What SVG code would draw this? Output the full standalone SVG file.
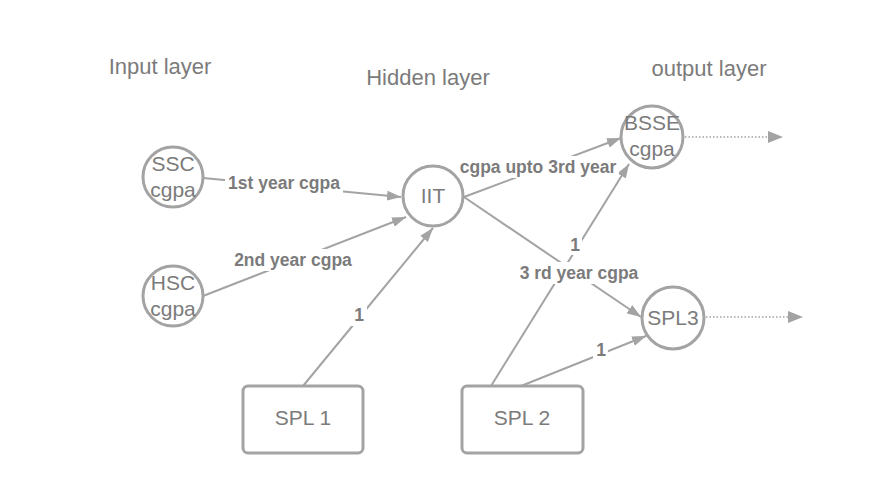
<svg xmlns="http://www.w3.org/2000/svg" width="869" height="493" viewBox="0 0 869 493">
<style>
.node{fill:#fff;stroke:#a3a3a3;stroke-width:3}
.nt{font-family:"Liberation Sans",Arial,sans-serif;font-size:21px;fill:#7b7b7b;text-anchor:middle}
.layer{font-family:"Liberation Sans",Arial,sans-serif;font-size:22px;fill:#7b7b7b;text-anchor:middle}
.edge{stroke:#a3a3a3;stroke-width:2;fill:none}
.dot{stroke:#a3a3a3;stroke-width:1.5;fill:none;stroke-dasharray:1.5 2}
.lbl{font-family:"Liberation Sans",Arial,sans-serif;font-size:17.5px;font-weight:bold;fill:#7b7b7b;text-anchor:middle}
.bg{fill:#fff}
</style>
<defs>
<marker id="ah" viewBox="0 0 14 10" refX="14" refY="5" markerWidth="14" markerHeight="10" markerUnits="userSpaceOnUse" orient="auto">
<path d="M0,0 L14,5 L0,10 Z" fill="#a3a3a3"/>
</marker>
</defs>
<rect width="869" height="493" fill="#fff"/>
<text class="layer" x="160" y="74">Input layer</text>
<text class="layer" x="428" y="85">Hidden layer</text>
<text class="layer" x="709" y="76">output layer</text>
<g id="connectors">
<line class="edge" x1="203" y1="178" x2="401" y2="197" marker-end="url(#ah)"/>
<line class="edge" x1="203" y1="296" x2="406" y2="217" marker-end="url(#ah)"/>
<line class="edge" x1="303" y1="386" x2="433" y2="228" marker-end="url(#ah)"/>
<line class="edge" x1="464" y1="197" x2="621" y2="138" marker-end="url(#ah)"/>
<line class="edge" x1="464" y1="197" x2="641" y2="317" marker-end="url(#ah)"/>
<line class="edge" x1="491" y1="386" x2="629" y2="164" marker-end="url(#ah)"/>
<line class="edge" x1="521" y1="386" x2="646" y2="336" marker-end="url(#ah)"/>
<line class="dot" x1="685" y1="137" x2="768" y2="137"/>
<path d="M768,131 L783,137 L768,143 Z" fill="#a3a3a3"/>
<line class="dot" x1="706" y1="317" x2="788" y2="317"/>
<path d="M788,311 L803,317 L788,323 Z" fill="#a3a3a3"/>
<rect class="bg" x="225" y="172" width="118" height="22"/>
<text class="lbl" x="284" y="189">1st year cgpa</text>
<rect class="bg" x="231" y="249" width="124" height="22"/>
<text class="lbl" x="293" y="266">2nd year cgpa</text>
<rect class="bg" x="351" y="305" width="16" height="21"/>
<text class="lbl" x="359" y="321">1</text>
<rect class="bg" x="457" y="156" width="162" height="22"/>
<text class="lbl" x="538" y="173">cgpa upto 3rd year</text>
<rect class="bg" x="516" y="262" width="126" height="22"/>
<text class="lbl" x="579" y="279">3 rd year cgpa</text>
<rect class="bg" x="567" y="236" width="15" height="19"/>
<text class="lbl" x="575" y="251">1</text>
<rect class="bg" x="593" y="341" width="15" height="19"/>
<text class="lbl" x="601" y="356">1</text>
</g>
<g id="ssc"><circle class="node" cx="173" cy="177" r="30"/><text class="nt" x="173" y="171">SSC</text><text class="nt" x="173" y="197">cgpa</text></g>
<g id="hsc"><circle class="node" cx="173" cy="296" r="30"/><text class="nt" x="173" y="290">HSC</text><text class="nt" x="173" y="316">cgpa</text></g>
<g id="iit"><circle class="node" cx="433" cy="196" r="30"/><text class="nt" x="433" y="203">IIT</text></g>
<g id="bsse"><circle class="node" cx="652" cy="137" r="31"/><text class="nt" x="652" y="130">BSSE</text><text class="nt" x="652" y="156">cgpa</text></g>
<g id="spl3"><circle class="node" cx="673" cy="318" r="31"/><text class="nt" x="673" y="325">SPL3</text></g>
<g id="spl1"><rect class="node" x="243" y="386" width="120" height="67" rx="5"/><text class="nt" x="303" y="425">SPL 1</text></g>
<g id="spl2"><rect class="node" x="462" y="386" width="121" height="67" rx="5"/><text class="nt" x="522" y="425">SPL 2</text></g>
</svg>
